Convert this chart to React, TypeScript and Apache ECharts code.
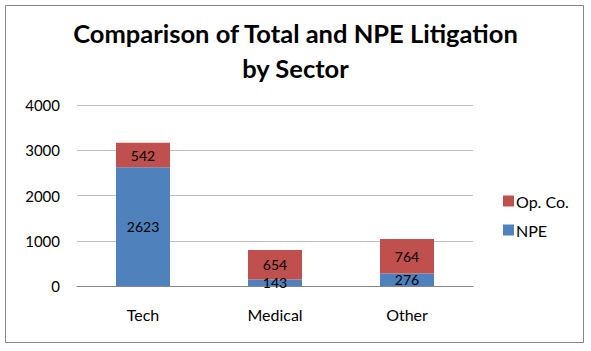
import React, { useEffect, useRef } from "react";
import * as echarts from "echarts";

const categories = ["Tech", "Medical", "Other"];
const npeValues = [2623, 143, 276];
const opCoValues = [542, 654, 764];
const yTicks = [0, 1000, 2000, 3000, 4000];

const FONT = "Lato, 'Open Sans', sans-serif";

export default function App() {
  const ref = useRef<HTMLDivElement>(null);
  useEffect(() => {
    if (!ref.current) return;
    const chart = echarts.init(ref.current, null, { renderer: "svg" });
    chart.setOption({
      animation: false,
      backgroundColor: "#ffffff",
      textStyle: { fontFamily: FONT },
      title: {
        text: "Comparison of Total and NPE Litigation\nby Sector",
        left: "center",
        top: 10,
        textStyle: {
          fontFamily: FONT,
          fontSize: 25.5,
          fontWeight: "bold",
          color: "#000",
          lineHeight: 35,
        },
      },
      graphic: [
        {
          type: "rect",
          shape: { x: 5.5, y: 5.5, width: 578, height: 337 },
          style: { fill: "none", stroke: "#868686", lineWidth: 1 },
          silent: true,
        },
      ],
      legend: {
        orient: "vertical",
        left: 498,
        top: 188,
        itemWidth: 11,
        itemHeight: 11,
        itemGap: 13,
        itemStyle: { borderWidth: 0 },
        icon: "rect",
        data: ["Op. Co.", "NPE"],
        textStyle: { fontFamily: FONT, fontSize: 16, color: "#000", padding: [0, 0, 0, -3] },
      },
      grid: { left: 77, right: 118, top: 105, bottom: 65 },
      xAxis: {
        type: "category",
        data: categories,
        axisTick: { show: false },
        axisLine: { lineStyle: { color: "#868686" } },
        axisLabel: { fontFamily: FONT, fontSize: 16, color: "#000", margin: 20 },
      },
      yAxis: {
        type: "value",
        min: yTicks[0],
        max: yTicks[yTicks.length - 1],
        interval: 1000,
        axisLine: { show: false },
        axisTick: { show: false },
        splitLine: { lineStyle: { color: "#bfbfbf" } },
        axisLabel: {
          fontFamily: FONT,
          fontSize: 15,
          color: "#000",
          margin: 17,
          formatter: (v: number) => String(v),
        },
      },
      series: [
        {
          name: "NPE",
          type: "bar",
          stack: "total",
          data: npeValues,
          barWidth: 54,
          itemStyle: { color: "#4F81BD" },
          label: { show: true, position: "inside", color: "#000", fontSize: 14, fontFamily: FONT },
        },
        {
          name: "Op. Co.",
          type: "bar",
          stack: "total",
          data: opCoValues,
          barWidth: 54,
          itemStyle: { color: "#C0504D" },
          label: { show: true, position: "inside", color: "#000", fontSize: 14, fontFamily: FONT },
        },
      ],
    });
    return () => chart.dispose();
  }, []);
  return (
    <div
      ref={ref}
      style={{ position: "fixed", left: 0, top: 0, width: 591, height: 351 }}
    />
  );
}
